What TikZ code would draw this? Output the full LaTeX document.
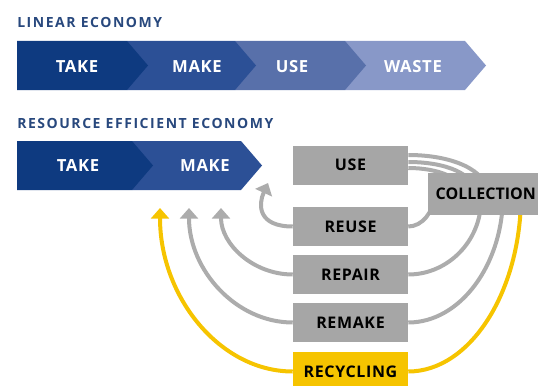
\documentclass[tikz,border=0pt]{standalone}
\usepackage{fontspec}
\setmainfont{Open Sans}[LetterSpace=4]
\usetikzlibrary{arrows.meta,backgrounds}

\definecolor{takeblue}{RGB}{14,58,128}
\definecolor{makeblue}{RGB}{44,80,150}
\definecolor{useblue}{RGB}{88,112,170}
\definecolor{wasteblue}{RGB}{136,152,200}
\definecolor{headblue}{RGB}{40,72,125}
\definecolor{boxgray}{RGB}{166,166,166}
\definecolor{loopgray}{RGB}{172,172,172}
\definecolor{recyellow}{RGB}{246,196,0}

\begin{document}
\begin{tikzpicture}[x=0.75pt, y=-0.75pt,
    heading/.style={anchor=west, inner sep=0pt, text=headblue, font=\bfseries\fontsize{10.5}{12}\selectfont\addfontfeatures{LetterSpace=11}},
    chevtext/.style={text=white, font=\bfseries\fontsize{12.5}{14}\selectfont},
    stage/.style={fill=boxgray, minimum width=86.25pt, minimum height=29.25pt, inner sep=0pt, font=\bfseries\fontsize{12}{14}\selectfont},
    loopline/.style={draw=loopgray, line width=3pt},
    recline/.style={loopline, draw=recyellow},
    back/.style={-{Triangle[width=13.5pt,length=8pt]}}]
  \useasboundingbox (0,0) rectangle (538,385);

  % linear chain
  \node[heading] (linear) at (17,22) {LINEAR ECONOMY};
  \foreach \xa/\xb/\col in {345/465/wasteblue, 235/345/useblue, 127/235/makeblue, 17/127/takeblue}
    \fill[\col] (\xa,41) -- (\xb,41) -- (\xb+21,65.5) -- (\xb,90) -- (\xa,90) -- cycle;
  \node[chevtext] (take1) at (77,67) {TAKE};
  \node[chevtext] (make1) at (197,67) {MAKE};
  \node[chevtext] (use1) at (292,67) {USE};
  \node[chevtext] (waste1) at (413,67) {WASTE};

  % resource efficient chain
  \node[heading] (efficient) at (17,123) {RESOURCE EFFICIENT ECONOMY};
  \foreach \xa/\xb/\col in {132/241/makeblue, 17/132/takeblue}
    \fill[\col] (\xa,141) -- (\xb,141) -- (\xb+21,165.5) -- (\xb,190) -- (\xa,190) -- cycle;
  \node[chevtext] (take2) at (78,166) {TAKE};
  \node[chevtext] (make2) at (205,166) {MAKE};

  \node[stage] (use2) at (350.5,165) {USE};
  \node[stage] (reuse) at (350.5,226.5) {REUSE};
  \node[stage] (repair) at (350.5,274.5) {REPAIR};
  \node[stage] (remake) at (350.5,322.5) {REMAKE};
  \node[stage, fill=recyellow] (recycling) at (350.5,371.5) {RECYCLING};
  \node[stage, anchor=north west, minimum height=31.5pt, inner xsep=5.25pt,
    font=\bfseries\fontsize{12}{14}\selectfont\addfontfeatures{LetterSpace=0}] (coll) at (428,173) {COLLECTION};

  % arrow tips under MAKE, hidden ends inside COLLECTION
  \coordinate (t0) at (268,183);
  \coordinate (t1) at (221,208);
  \coordinate (t2) at (189,208);
  \coordinate (t3) at (160,208);
  \coordinate (c0) at (434,195);
  \coordinate (c1) at (481,200);
  \coordinate (c2) at (503,195);
  \coordinate (c3) at (521,195);
  \coordinate (c4) at (488,195);
  \coordinate (c5) at (476,195);
  \coordinate (c6) at (464,195);

  \begin{pgfonlayer}{background}
    \draw[loopline] ([yshift=7.5pt]use2.east) .. controls (452,155) and (488,170) .. (c4);
    \draw[loopline] ([yshift=2.25pt]use2.east) .. controls (446,162) and (476,174) .. (c5);
    \draw[loopline] ([yshift=-2.25pt]use2.east) .. controls (438,168) and (464,178) .. (c6);
    \draw[loopline] (c0) .. controls (434,212) and (422,226.5) .. (reuse.east);
    \draw[loopline] (c1) .. controls (481,241) and (448,274.5) .. (repair.east);
    \draw[loopline] (c2) .. controls (503,265) and (460,322.5) .. (remake.east);
    \draw[recline] (c3) .. controls (521,292) and (470,371.5) .. (recycling.east);
    \draw[loopline, back] (reuse.west) .. controls (258,226.5) and (258,205) .. (t0);
    \draw[loopline, back] (repair.west) .. controls (253,274.5) and (221,244) .. (t1);
    \draw[loopline, back] (remake.west) .. controls (236,322.5) and (189,270) .. (t2);
    \draw[recline, back] (recycling.west) .. controls (220,371.5) and (160,297) .. (t3);
  \end{pgfonlayer}
\end{tikzpicture}
\end{document}
